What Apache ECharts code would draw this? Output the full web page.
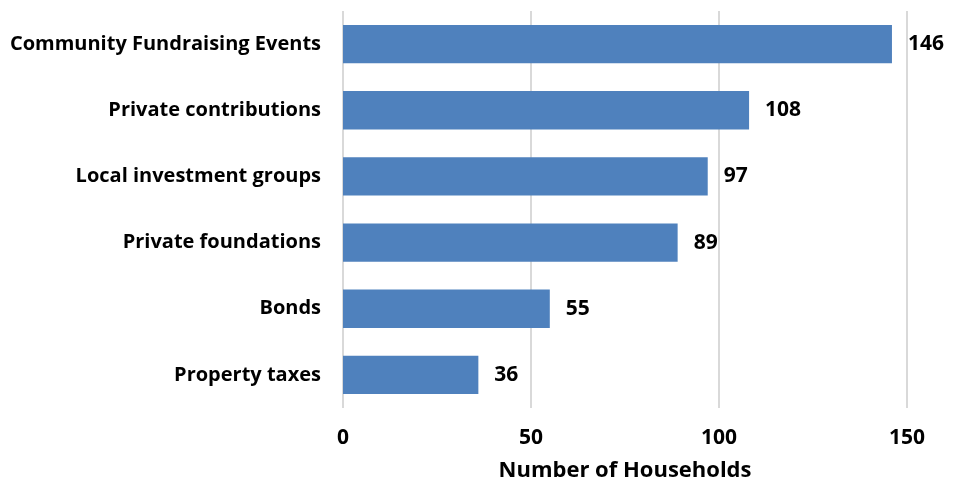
<!DOCTYPE html>
<html>
<head>
<meta charset="utf-8">
<script src="https://cdn.jsdelivr.net/npm/echarts@6/dist/echarts.min.js"></script>
<style>
html, body { margin: 0; padding: 0; background: #fff; }
#chart { width: 958px; height: 480px; }
</style>
</head>
<body>
<div id="chart"></div>
<script>
// Funding sources, listed bottom to top as the category axis draws them
const categories = [
  'Property taxes',
  'Bonds',
  'Private foundations',
  'Local investment groups',
  'Private contributions',
  'Community Fundraising Events'
];
const households = [36, 55, 89, 97, 108, 146];
const xTicks = [0, 50, 100, 150];

const FONT = '"Open Sans", Lato, sans-serif';
const chart = echarts.init(document.getElementById('chart'));
chart.setOption({
  animation: false,
  grid: {
    left: 343, right: 51, top: 11, bottom: 72,
    containLabel: false,
    outerBoundsMode: 'none'
  },
  xAxis: {
    type: 'value',
    min: xTicks[0],
    max: xTicks[xTicks.length - 1],
    interval: 50,
    name: 'Number of Households',
    nameLocation: 'middle',
    nameGap: 52,
    nameTextStyle: { fontFamily: FONT, fontWeight: 'bold', fontSize: 22, color: '#000' },
    axisLine: { show: false },
    axisTick: { show: false },
    axisLabel: { fontFamily: FONT, fontWeight: 'bold', fontSize: 21, color: '#000', margin: 20 },
    splitLine: { show: true, lineStyle: { color: '#d9d9d9', width: 2 } }
  },
  yAxis: {
    type: 'category',
    data: categories,
    axisLine: { show: false },
    axisTick: { show: false },
    axisLabel: { fontFamily: FONT, fontWeight: 'bold', fontSize: 20, color: '#000', margin: 22 }
  },
  series: [{
    type: 'bar',
    data: households,
    barCategoryGap: '42%',
    itemStyle: { color: '#4f81bd' },
    label: {
      show: true,
      position: 'right',
      distance: 16,
      fontFamily: FONT,
      fontWeight: 'bold',
      fontSize: 21,
      color: '#000'
    }
  }]
});
</script>
</body>
</html>
